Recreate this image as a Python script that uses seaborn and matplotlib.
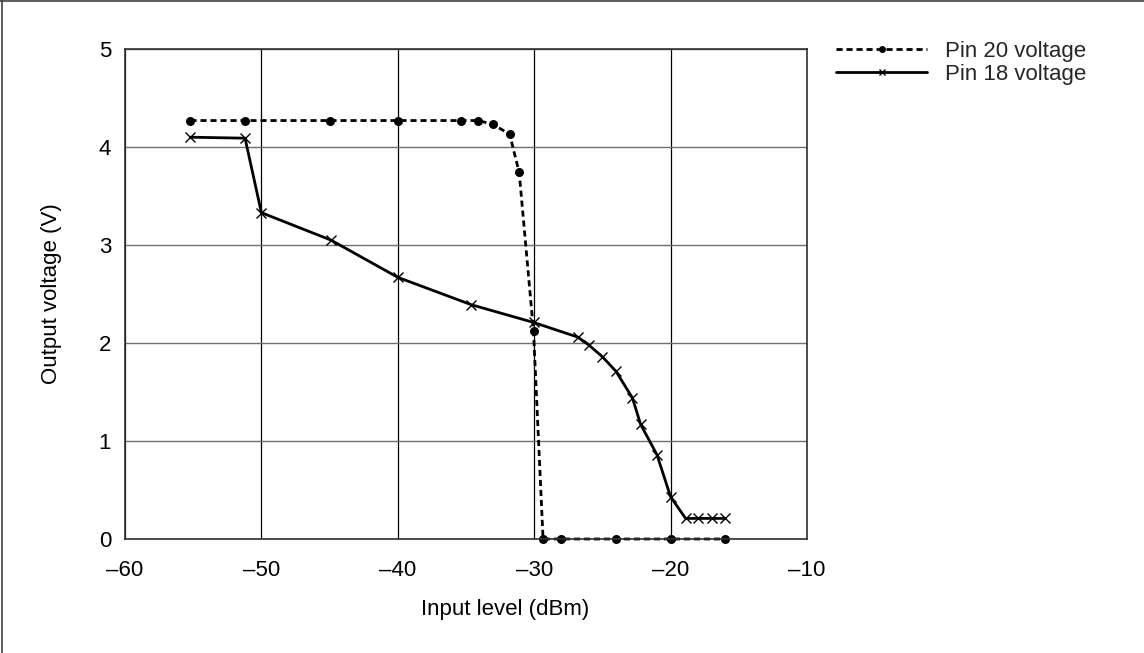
"""Output voltage of pins 20 and 18 against input level."""
import matplotlib

matplotlib.use("Agg")
import matplotlib.pyplot as plt
import pandas as pd
import seaborn as sns
from matplotlib.lines import Line2D
from matplotlib.ticker import FuncFormatter

# ── data ────────────────────────────────────────────────────────────
pin20_input = [-55.2, -51.2, -45.0, -40.0, -35.4, -34.1, -33.0, -31.8, -31.1,
               -30.05, -29.35, -28.0, -24.0, -20.0, -16.0]
pin20_volts = [4.27, 4.27, 4.27, 4.27, 4.27, 4.27, 4.23, 4.13, 3.74,
               2.12, 0.0, 0.0, 0.0, 0.0, 0.0]

pin18_input = [-55.2, -51.2, -50.0, -44.9, -40.0, -34.6, -30.05, -26.8, -26.0,
               -25.0, -24.0, -22.8, -22.2, -21.0, -20.0, -18.9, -18.0, -17.0, -16.0]
pin18_volts = [4.10, 4.09, 3.33, 3.05, 2.67, 2.39, 2.21, 2.06, 1.98,
               1.86, 1.71, 1.44, 1.17, 0.86, 0.43, 0.21, 0.21, 0.21, 0.21]

series_labels = ["Pin 20 voltage", "Pin 18 voltage"]
x_label = "Input level (dBm)"
y_label = "Output voltage (V)"

sns.set_theme(style="white")
plt.rcParams["font.family"] = ["Liberation Sans", "DejaVu Sans"]
FONT_SIZE = 16

pin20_df = pd.DataFrame({"x": pin20_input, "y": pin20_volts})
pin18_df = pd.DataFrame({"x": pin18_input, "y": pin18_volts})

fig = plt.figure(figsize=(11.44, 6.53), dpi=100)
ax = fig.add_axes([125 / 1144, 1 - 539 / 653, 682 / 1144, 490 / 653])

sns.lineplot(data=pin20_df, x="x", y="y", ax=ax, estimator=None, sort=False,
             color="black", linewidth=2.0, linestyle=(0, (2.2, 1.4)),
             marker="o", markersize=6.5, markeredgewidth=0,
             markerfacecolor="black", clip_on=False)
sns.lineplot(data=pin18_df, x="x", y="y", ax=ax, estimator=None, sort=False,
             color="black", linewidth=2.0, linestyle="-",
             marker="x", markersize=7, markeredgewidth=1.0,
             markeredgecolor="black", clip_on=False)

# ── axes styling ────────────────────────────────────────────────────
ax.set_xlim(-60, -10)
ax.set_ylim(0, 5)
ax.set_xticks(range(-60, -9, 10))
ax.set_yticks(range(0, 6))
dash_fmt = FuncFormatter(lambda v, _: f"{v:g}".replace("-", "\u2013"))
ax.xaxis.set_major_formatter(dash_fmt)
ax.yaxis.set_major_formatter(dash_fmt)
ax.tick_params(axis="both", length=0, labelsize=FONT_SIZE, colors="black")
ax.tick_params(axis="x", pad=15)
ax.tick_params(axis="y", pad=10)
ax.xaxis.grid(True, color="black", linewidth=0.9)
ax.yaxis.grid(True, color="#707070", linewidth=1.0)
ax.set_axisbelow(True)
for side in ("top", "right", "left", "bottom"):
    ax.spines[side].set_visible(True)
    ax.spines[side].set_color("#303030")
    ax.spines[side].set_linewidth(1.2)
ax.set_xlabel(x_label, fontsize=FONT_SIZE, color="black")
ax.xaxis.set_label_coords((505 - 125) / 682, -0.122)
ax.set_ylabel(y_label, fontsize=FONT_SIZE, color="black", labelpad=26)

# ── legend outside the plot area ────────────────────────────────────
handles = [
    Line2D([], [], color="black", linewidth=2.0, linestyle=(0, (2.2, 1.4)),
           marker="o", markersize=5, markeredgewidth=0),
    Line2D([], [], color="black", linewidth=2.0, linestyle="-",
           marker="x", markersize=5, markeredgewidth=1.0),
]
fig.legend(handles, series_labels, loc="upper left",
           bbox_to_anchor=(836 / 1144, 1 - 41 / 653), frameon=False,
           fontsize=FONT_SIZE, handlelength=4.1, handletextpad=0.8,
           labelspacing=0.1, borderpad=0, borderaxespad=0)

# figure frame (only left and top edges visible in the reference)
fig.add_artist(Line2D([0.0015, 0.0015], [0, 1], transform=fig.transFigure,
                      color="#404040", linewidth=1.2))
fig.add_artist(Line2D([0, 1], [0.9985, 0.9985], transform=fig.transFigure,
                      color="#404040", linewidth=1.2))

fig.savefig("out.png", dpi=100, facecolor="white")
